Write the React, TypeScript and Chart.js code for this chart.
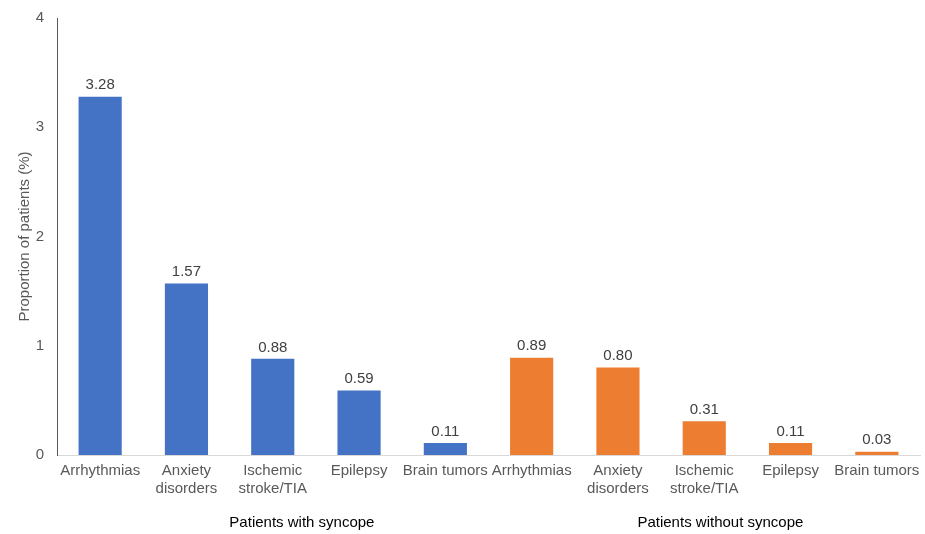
import React, { useEffect, useRef } from "react";
import { Chart, registerables } from "chart.js";

Chart.register(...registerables);

const conditions: string[][] = [
  ["Arrhythmias"],
  ["Anxiety", "disorders"],
  ["Ischemic", "stroke/TIA"],
  ["Epilepsy"],
  ["Brain tumors"],
];
const groups = ["Patients with syncope", "Patients without syncope"];
const withSyncope = [3.28, 1.57, 0.88, 0.59, 0.11];
const withoutSyncope = [0.89, 0.8, 0.31, 0.11, 0.03];
const yTicks = [0, 1, 2, 3, 4];

const BLUE = "#4472C4";
const ORANGE = "#ED7D31";
const FONT = "'Liberation Sans', Arial, sans-serif";

export default function App() {
  const ref = useRef<HTMLCanvasElement | null>(null);

  useEffect(() => {
    if (!ref.current) return;
    const labels = [...conditions, ...conditions];
    const values = [...withSyncope, ...withoutSyncope];
    const colors = [
      ...withSyncope.map(() => BLUE),
      ...withoutSyncope.map(() => ORANGE),
    ];

    const valueLabels = {
      id: "valueLabels",
      afterDatasetsDraw(chart: any) {
        const ctx = chart.ctx;
        const meta = chart.getDatasetMeta(0);
        ctx.save();
        ctx.font = `15px ${FONT}`;
        ctx.fillStyle = "#404040";
        ctx.textAlign = "center";
        ctx.textBaseline = "bottom";
        meta.data.forEach((el: any, i: number) => {
          ctx.fillText(values[i].toFixed(2), el.x, el.y - 4);
        });
        ctx.restore();
      },
    };

    const groupLabels = {
      id: "groupLabels",
      afterDraw(chart: any) {
        const ctx = chart.ctx;
        const x = chart.scales.x;
        ctx.save();
        ctx.font = `15px ${FONT}`;
        ctx.fillStyle = "#000000";
        ctx.textAlign = "center";
        ctx.textBaseline = "middle";
        const c1 = (x.getPixelForValue(2) + x.getPixelForValue(3)) / 2 - 14;
        const c2 = (x.getPixelForValue(7) + x.getPixelForValue(8)) / 2 - 27;
        ctx.fillText(groups[0], c1, 523);
        ctx.fillText(groups[1], c2, 523);
        ctx.restore();
      },
    };

    const chart = new Chart(ref.current, {
      type: "bar",
      data: {
        labels,
        datasets: [
          {
            data: values,
            backgroundColor: colors,
            barPercentage: 0.5,
            categoryPercentage: 1,
          },
        ],
      },
      options: {
        animation: false,
        responsive: false,
        maintainAspectRatio: false,
        layout: { padding: { left: 0, right: 5, top: 18, bottom: 0 } },
        plugins: {
          legend: { display: false },
          tooltip: { enabled: false },
        },
        scales: {
          x: {
            grid: { display: false, drawTicks: false },
            border: { display: true, color: "#D9D9D9", width: 1 },
            ticks: {
              color: "#595959",
              font: { family: FONT, size: 15 },
              padding: 7,
              maxRotation: 0,
              autoSkip: false,
            },
            afterFit: (s: any) => {
              s.height = 79;
              s.paddingLeft = 0;
              s.paddingRight = 0;
            },
          },
          y: {
            min: 0,
            max: 4,
            grid: { display: false, drawTicks: false },
            border: { display: true, color: "#595959", width: 1 },
            afterBuildTicks: (s: any) => {
              s.ticks = yTicks.map((v) => ({ value: v }));
            },
            ticks: {
              color: "#595959",
              font: { family: FONT, size: 15 },
              padding: 13,
            },
            title: {
              display: true,
              text: "Proportion of patients (%)",
              color: "#595959",
              font: { family: FONT, size: 15 },
              padding: { top: 16, bottom: 0 },
            },
            afterFit: (s: any) => {
              s.width = 57;
              s.paddingTop = 0;
              s.paddingBottom = 0;
            },
          },
        },
      },
      plugins: [valueLabels, groupLabels],
    });
    return () => chart.destroy();
  }, []);

  return (
    <div style={{ position: "fixed", left: 0, top: 0, width: 925, height: 534, background: "#fff" }}>
      <canvas ref={ref} width={925} height={534} style={{ width: 925, height: 534 }} />
    </div>
  );
}
